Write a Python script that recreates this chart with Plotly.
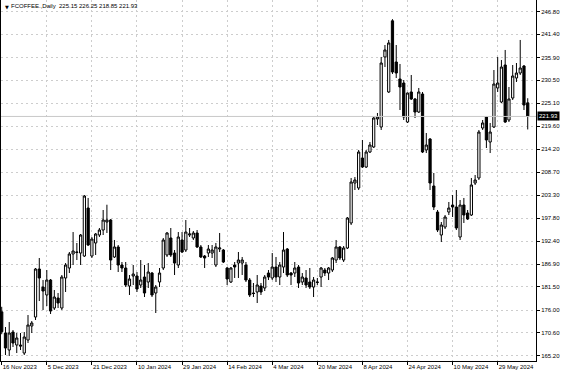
import plotly.graph_objects as go

# ---- data ----
opens = [175.60,170.59,166.56,170.82,167.74,167.74,165.84,168.93,172.25,174.38,
         185.76,181.49,179.60,183.15,176.51,178.88,176.51,183.63,186.00,189.32,
         189.79,189.55,188.84,200.22,188.84,191.93,193.82,195.01,196.90,197.38,
         188.61,190.98,186.71,186.00,181.73,184.10,184.10,181.97,183.86,182.68,
         184.81,180.07,182.68,186.00,189.08,193.11,189.55,186.71,192.64,190.26,
         193.82,193.11,194.30,190.98,188.84,189.55,189.55,186.71,190.50,190.26,
         186.00,182.68,186.71,187.18,187.18,186.71,183.15,180.07,180.31,181.73,
         181.26,184.81,183.63,186.23,183.86,186.23,190.50,184.81,184.81,186.23,
         182.68,183.63,182.68,181.49,182.68,183.86,185.52,184.81,185.52,187.89,
         190.98,187.89,190.74,196.67,206.15,204.97,212.08,209.94,213.50,214.69,
         221.33,219.43,236.03,227.73,244.60,234.84,230.81,229.86,220.61,227.73,
         226.07,222.98,227.25,213.98,216.58,205.44,199.27,193.82,195.72,199.27,
         200.93,200.46,193.35,200.93,199.04,198.56,206.15,207.34,219.19,221.80,
         215.87,219.43,228.68,225.36,234.13,221.09,226.30,231.05,232.23,233.89,
         225.15]
highs = [176.80,172.01,173.19,171.30,170.59,170.59,170.82,174.85,173.43,186.00,
         188.37,183.15,185.52,183.39,180.78,180.07,184.34,187.18,189.79,194.53,
         191.93,194.06,203.31,202.60,193.35,194.30,195.48,199.75,201.00,197.61,
         192.64,191.45,187.42,187.42,184.34,186.71,185.05,187.89,186.71,187.18,
         185.05,181.97,186.00,193.11,194.53,195.48,190.26,194.53,194.53,197.38,
         195.48,194.77,195.01,191.45,189.08,191.45,191.45,191.93,194.30,190.50,
         186.23,186.23,187.42,189.79,188.61,187.42,183.63,182.44,184.34,182.44,
         184.34,185.52,189.55,188.61,187.42,194.53,190.74,185.05,187.42,186.71,
         184.81,185.52,186.00,183.86,183.63,186.23,186.00,186.23,188.61,192.64,
         191.21,191.21,198.09,207.34,207.57,213.98,216.35,213.98,215.87,221.80,
         222.75,236.03,238.87,240.06,245.00,238.87,234.37,230.57,227.60,231.76,
         226.30,228.68,227.73,218.01,216.82,208.52,199.75,196.90,198.56,201.65,
         203.31,204.49,202.12,202.60,199.75,207.34,208.05,218.72,221.09,222.00,
         220.38,232.94,236.03,235.31,237.69,228.91,234.13,234.60,240.06,234.13,
         226.25]
lows = [170.30,165.37,165.13,167.27,165.84,166.56,165.37,168.21,170.59,173.67,
        178.17,176.04,176.99,175.09,176.04,176.51,176.04,180.31,184.81,186.71,
        187.89,186.71,188.61,191.21,188.37,189.08,193.35,193.82,194.30,185.52,
        188.37,185.05,185.05,181.49,179.60,181.97,180.31,181.26,179.12,181.26,
        179.12,175.33,181.49,185.52,188.61,188.61,184.34,186.00,189.55,189.79,
        193.35,192.64,190.74,188.37,186.00,188.61,188.37,186.23,189.79,187.18,
        181.97,182.44,183.63,183.63,184.34,182.68,179.12,179.12,177.70,179.60,
        180.54,183.15,183.15,182.68,181.97,184.81,183.86,181.97,183.86,181.26,
        181.97,181.26,181.02,179.12,181.97,181.49,184.10,183.15,185.05,187.18,
        187.89,187.42,190.50,196.19,204.49,204.49,209.71,209.71,213.26,214.45,
        219.90,218.72,233.65,227.50,232.00,231.05,223.46,221.09,220.38,225.83,
        221.56,222.75,213.26,213.26,204.49,199.75,194.53,192.16,195.24,198.56,
        198.09,195.01,192.64,196.67,197.38,198.33,205.68,206.86,218.72,214.45,
        213.26,219.19,227.73,225.12,220.40,220.61,225.83,230.10,231.76,223.46,
        218.85]
closes = [170.90,167.03,170.59,168.21,169.40,167.50,169.64,172.48,172.96,185.76,
          183.63,180.54,183.15,175.80,179.12,177.70,183.86,186.71,189.32,190.03,
          189.70,193.82,203.07,191.45,192.87,194.06,195.01,197.38,197.38,187.89,
          190.98,186.71,186.00,181.97,183.39,184.57,181.02,183.15,180.07,185.05,
          179.60,181.49,184.81,192.64,194.30,189.08,187.18,193.35,189.79,194.53,
          194.06,194.30,190.98,188.61,188.37,190.50,190.26,190.98,190.74,187.42,
          183.39,186.00,186.23,187.89,187.89,183.15,179.60,179.95,181.97,180.31,
          183.86,183.86,186.23,183.86,186.71,190.26,184.34,184.34,186.00,182.44,
          183.86,181.97,181.49,183.15,182.60,186.00,184.81,186.00,188.37,190.98,
          188.37,190.74,197.85,206.39,206.86,213.50,209.94,213.50,215.16,221.56,
          221.80,234.60,237.69,239.35,232.47,232.23,228.91,221.80,227.49,226.07,
          222.98,227.73,213.50,215.16,206.15,200.46,195.01,196.19,198.09,200.22,
          200.46,195.48,200.93,198.56,197.61,205.68,206.86,218.24,220.38,216.35,
          218.24,229.62,229.86,233.65,220.61,226.07,231.52,232.23,233.42,224.64,
          221.93]

tick_labels = ["16 Nov 2023", "5 Dec 2023", "21 Dec 2023", "10 Jan 2024",
               "29 Jan 2024", "14 Feb 2024", "4 Mar 2024", "20 Mar 2024",
               "8 Apr 2024", "24 Apr 2024", "10 May 2024", "29 May 2024"]
bars_per_label = 12

price_ticks = [165.20, 170.60, 176.00, 181.50, 186.90, 192.40, 197.80, 203.30,
               208.70, 214.20, 219.60, 225.10, 230.50, 235.90, 241.40, 246.80]

symbol = "FCOFFEE.,Daily"
last_price = closes[-1]

# ---- figure ----
bar_index = list(range(len(closes)))
tick_index = [i * bars_per_label for i in range(len(tick_labels))]

FONT = "Liberation Sans"
GRID = "#cdcdcd"

fig = go.Figure(go.Candlestick(
    x=bar_index, open=opens, high=highs, low=lows, close=closes,
    increasing=dict(line=dict(color="black", width=1), fillcolor="white"),
    decreasing=dict(line=dict(color="black", width=1), fillcolor="black"),
    whiskerwidth=0, hoverinfo="skip",
))

fig.update_layout(
    width=564, height=376,
    margin=dict(l=1, r=28, t=0, b=15),
    paper_bgcolor="white", plot_bgcolor="white",
    showlegend=False, boxgap=0.15,
    font=dict(family=FONT, size=6, color="black"),
)

fig.update_xaxes(
    range=[-0.19, 142.2],
    rangeslider_visible=False,
    tickmode="array", tickvals=tick_index, ticktext=tick_labels,
    ticklabelposition="outside right",
    ticks="outside", ticklen=3, tickcolor="black",
    showline=True, linecolor="black", linewidth=1,
    showgrid=True, gridcolor=GRID, gridwidth=1, griddash="2px,3px",
    zeroline=False,
    tickfont=dict(family=FONT, size=6, color="black"),
)

fig.update_yaxes(
    side="right",
    range=[163.95, 249.54],
    tickmode="array", tickvals=price_ticks,
    ticktext=[f"{v:.2f}" for v in price_ticks],
    ticks="outside", ticklen=3, tickcolor="black",
    showline=True, linecolor="black", linewidth=1, mirror=True,
    showgrid=True, gridcolor=GRID, gridwidth=1, griddash="2px,3px",
    zeroline=False,
    tickfont=dict(family=FONT, size=6, color="black"),
)

# current price line and tag
fig.add_shape(type="line", xref="paper", x0=0, x1=1, yref="y",
              y0=last_price, y1=last_price,
              line=dict(color="#c8c8c8", width=1))
fig.add_annotation(xref="paper", x=1, xanchor="left", xshift=1,
                   yref="y", y=last_price, yanchor="middle",
                   text=f"{last_price:.2f}", showarrow=False,
                   bgcolor="black", borderpad=1,
                   font=dict(family=FONT, size=6, color="white"))

# header
fig.add_annotation(xref="paper", x=0, xanchor="left", xshift=2,
                   yref="paper", y=1, yanchor="top", yshift=-2,
                   text="▼", showarrow=False,
                   font=dict(family="DejaVu Sans", size=5, color="black"))
fig.add_annotation(xref="paper", x=0, xanchor="left", xshift=8,
                   yref="paper", y=1, yanchor="top", yshift=-1,
                   text=f"{symbol}  {opens[-1]:.2f} {highs[-1]:.2f} {lows[-1]:.2f} {closes[-1]:.2f}",
                   showarrow=False,
                   font=dict(family=FONT, size=6, color="black"))

fig.write_html("out.html")
